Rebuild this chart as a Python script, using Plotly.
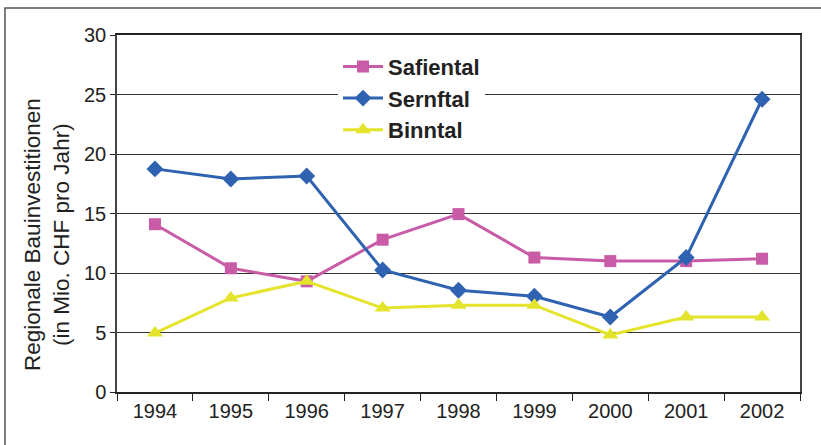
import plotly.graph_objects as go

years = ["1994", "1995", "1996", "1997", "1998", "1999", "2000", "2001", "2002"]
safiental = [14.1, 10.4, 9.3, 12.8, 14.95, 11.3, 11.0, 11.0, 11.2]
sernftal = [18.75, 17.9, 18.15, 10.25, 8.55, 8.05, 6.3, 11.3, 24.6]
binntal = [4.95, 7.9, 9.3, 7.05, 7.3, 7.3, 4.8, 6.3, 6.3]
y_ticks = [0, 5, 10, 15, 20, 25, 30]

PINK = "#C95CA6"
BLUE = "#2F62B0"
YELLOW = "#E4E42C"
FONT = "Liberation Sans, Arial, sans-serif"

fig = go.Figure()
fig.add_trace(go.Scatter(x=years, y=safiental, name="Safiental", mode="lines+markers",
                         line=dict(color=PINK, width=3),
                         marker=dict(symbol="square", size=12, color=PINK)))
fig.add_trace(go.Scatter(x=years, y=sernftal, name="Sernftal", mode="lines+markers",
                         line=dict(color=BLUE, width=3),
                         marker=dict(symbol="diamond", size=13, color=BLUE)))
fig.add_trace(go.Scatter(x=years, y=binntal, name="Binntal", mode="lines+markers",
                         line=dict(color=YELLOW, width=3),
                         marker=dict(symbol="triangle-up", size=14, color=YELLOW)))

fig.update_layout(
    width=821, height=445,
    margin=dict(l=117, r=21, t=35, b=53, autoexpand=False),
    paper_bgcolor="white", plot_bgcolor="white",
    font=dict(family=FONT, size=20, color="#222222"),
    showlegend=True,
    hovermode=False,
    legend=dict(x=0.3236, y=0.97, xanchor="left", yanchor="top",
                bgcolor="white", borderwidth=0,
                font=dict(family=FONT, size=22, color="#222222", weight="bold"),
                itemwidth=40),
    xaxis=dict(type="category", range=[-0.5, 8.5], tickson="boundaries",
               ticks="outside", ticklen=7,
               tickcolor="#222222", showline=True, linecolor="#222222", linewidth=1.5,
               mirror=True, showgrid=False, tickfont=dict(size=20), fixedrange=True),
    yaxis=dict(range=[0, 30], tickvals=y_ticks, ticks="outside", ticklen=5,
               tickcolor="#222222", showline=True, linecolor="#444444", linewidth=1.5,
               mirror=True, showgrid=True, gridcolor="#333333", gridwidth=1,
               zeroline=False, tickfont=dict(size=20), fixedrange=True),
    annotations=[dict(text="Regionale Bauinvestitionen<br>(in Mio. CHF pro Jahr)",
                      xref="paper", yref="paper", x=-0.1025, y=0.4426,
                      xanchor="center", yanchor="middle", textangle=-90,
                      showarrow=False, font=dict(size=22.5, color="#222222"))],
    shapes=[dict(type="rect", xref="paper", yref="paper",
                 x0=-0.164, x1=1.2, y0=-0.3, y1=1.0756,
                 line=dict(color="#555555", width=1.5), layer="below")],
)

fig.write_html("out.html", config={"displayModeBar": False},
               post_script="document.body.style.margin='0';")
